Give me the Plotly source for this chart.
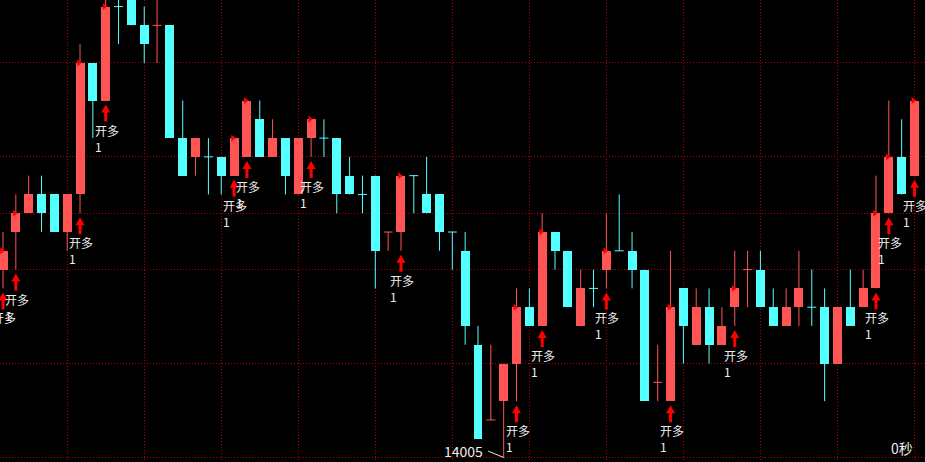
import plotly.graph_objects as go

# ---- data (price units) ----
opens = [14015, 14017, 14018, 14019, 14019, 14017, 14019, 14026, 14024, 14029, 14030, 14028,
         14028, 14028, 14022, 14021, 14021, 14021, 14020, 14021, 14023, 14021, 14022, 14019,
         14022, 14022, 14022, 14020, 14019, 14020, 14017, 14017, 14020, 14019, 14019, 14017,
         14016, 14011, 14007, 14008, 14010, 14013, 14012, 14017, 14016, 14012, 14014, 14015,
         14016, 14016, 14015, 14009, 14008, 14014, 14011, 14013, 14011, 14013, 14015, 14015,
         14013, 14012, 14013, 14013, 14013, 14010, 14013, 14013, 14014, 14018, 14021, 14020]
highs = [14017, 14019, 14020, 14020, 14019, 14019, 14027, 14026, 14031, 14031, 14030, 14029,
         14031, 14028, 14024, 14022, 14022, 14021, 14022, 14024, 14024, 14023, 14022, 14022,
         14023, 14023, 14022, 14021, 14020, 14020, 14017, 14020, 14020, 14021, 14019, 14017,
         14017, 14012, 14011, 14010, 14014, 14014, 14018, 14017, 14016, 14015, 14015, 14018,
         14019, 14017, 14015, 14011, 14016, 14014, 14014, 14014, 14013, 14016, 14016, 14016,
         14014, 14014, 14016, 14015, 14014, 14013, 14015, 14015, 14020, 14024, 14023, 14024]
lows = [14014, 14015, 14018, 14017, 14017, 14016, 14018, 14022, 14024, 14027, 14028, 14026,
        14026, 14022, 14020, 14020, 14019, 14019, 14020, 14021, 14021, 14021, 14019, 14019,
        14021, 14021, 14018, 14019, 14018, 14014, 14016, 14016, 14018, 14018, 14016, 14015,
        14011, 14006, 14007, 14005, 14008, 14012, 14012, 14015, 14013, 14012, 14013, 14014,
        14016, 14014, 14008, 14008, 14008, 14010, 14011, 14010, 14011, 14012, 14013, 14013,
        14012, 14012, 14012, 14012, 14008, 14010, 14012, 14013, 14014, 14018, 14019, 14020]
closes = [14016, 14018, 14019, 14018, 14017, 14019, 14026, 14024, 14029, 14029, 14028, 14027,
          14028, 14022, 14020, 14022, 14021, 14020, 14022, 14024, 14021, 14022, 14020, 14022,
          14023, 14022, 14019, 14019, 14019, 14016, 14017, 14020, 14020, 14018, 14017, 14017,
          14012, 14006, 14007, 14010, 14013, 14012, 14017, 14016, 14013, 14014, 14014, 14016,
          14016, 14015, 14008, 14009, 14013, 14012, 14013, 14011, 14012, 14014, 14015, 14013,
          14012, 14013, 14014, 14013, 14010, 14013, 14012, 14014, 14018, 14021, 14019, 14024]

# signal bars ("开多" = open long) and their quantities
signal_idx = [0, 1, 6, 8, 18, 19, 24, 31, 40, 42, 47, 52, 57, 68, 69, 71]
signal_qty = [1, 1, 1, 1, 1, 1, 1, 1, 1, 1, 1, 1, 1, 1, 1, 1]
signal_label = "开多"

# grid levels
price_grid = [14005, 14010, 14015, 14018, 14021, 14026]
bar_grid = [5, 11, 17, 23, 29, 35, 41, 47, 53, 59, 65, 71]

countdown_text = "0秒"

# ---- styles ----
RED = "#ff5454"
CYAN = "#54ffff"
ARROW_RED = "#ff0000"
GRID = "#b00000"
TEXT = "#eeeeee"
FONT = "Noto Sans CJK SC"
BODY_W = 0.7

n = len(opens)
xs = list(range(n))

up = []
for i in range(n):
    if closes[i] > opens[i]:
        up.append(True)
    elif closes[i] < opens[i]:
        up.append(False)
    else:
        prev = closes[i - 1] if i > 0 else opens[i]
        up.append(closes[i] > prev)

fig = go.Figure()

# wicks
for flag, col in ((True, RED), (False, CYAN)):
    wx, wy = [], []
    for i in range(n):
        if up[i] == flag:
            wx += [i, i, None]
            wy += [lows[i], highs[i], None]
    fig.add_trace(go.Scatter(x=wx, y=wy, mode="lines",
                             line=dict(color=col, width=1), hoverinfo="skip"))

# bodies
bx, by, bb, bc = [], [], [], []
for i in range(n):
    if opens[i] != closes[i]:
        bx.append(i)
        by.append(abs(closes[i] - opens[i]))
        bb.append(min(opens[i], closes[i]))
        bc.append(RED if up[i] else CYAN)
fig.add_trace(go.Bar(x=bx, y=by, base=bb, width=BODY_W,
                     marker=dict(color=bc, line=dict(width=0)), hoverinfo="skip"))

# doji bars (open == close)
for flag, col in ((True, RED), (False, CYAN)):
    dx, dy = [], []
    for i in range(n):
        if opens[i] == closes[i] and up[i] == flag:
            dx += [i - BODY_W / 2, i + BODY_W / 2, None]
            dy += [opens[i], opens[i], None]
    fig.add_trace(go.Scatter(x=dx, y=dy, mode="lines",
                             line=dict(color=col, width=1), hoverinfo="skip"))

# small signal flags at the top of signal bodies
fig.add_trace(go.Scatter(
    x=[i - 0.1 for i in signal_idx],
    y=[max(opens[i], closes[i]) for i in signal_idx],
    mode="markers",
    marker=dict(symbol="triangle-right", size=6, color=ARROW_RED, line=dict(width=0)),
    hoverinfo="skip"))

# arrows + labels
arrow_path = "M0,-4 L4.5,-12 L1.5,-12 L1.5,-21 L-1.5,-21 L-1.5,-12 L-4.5,-12 Z"
for i, q in zip(signal_idx, signal_qty):
    fig.add_shape(type="path", xref="x", yref="y",
                  xsizemode="pixel", ysizemode="pixel",
                  xanchor=i, yanchor=lows[i], path=arrow_path,
                  fillcolor=ARROW_RED, line=dict(width=0), layer="above")
    fig.add_annotation(x=i, y=lows[i], xref="x", yref="y",
                       text=f"{signal_label}<br>{q}", showarrow=False,
                       xanchor="left", yanchor="top", align="left",
                       xshift=-13, yshift=-19,
                       font=dict(family=FONT, size=12, color=TEXT))

# lowest price marker
lo_i = min(range(n), key=lambda k: lows[k])
fig.add_annotation(x=lo_i, y=lows[lo_i], xref="x", yref="y",
                   ax=-17, ay=-7, axref="pixel", ayref="pixel",
                   text="", showarrow=True, arrowhead=0, arrowwidth=1,
                   arrowcolor=TEXT, standoff=0)
fig.add_annotation(x=lo_i, y=lows[lo_i], xref="x", yref="y",
                   text=f"{lows[lo_i]}", showarrow=False,
                   xanchor="right", yanchor="middle", xshift=-19, yshift=6,
                   font=dict(family=FONT, size=14, color=TEXT))

fig.add_annotation(x=1, y=0, xref="paper", yref="paper", text=countdown_text,
                   showarrow=False, xanchor="right", yanchor="bottom",
                   xshift=-10, yshift=2,
                   font=dict(family=FONT, size=14, color=TEXT))

fig.update_layout(
    width=925, height=462,
    margin=dict(l=0, r=0, t=0, b=0),
    paper_bgcolor="#000000", plot_bgcolor="#000000",
    showlegend=False, bargap=0,
    xaxis=dict(range=[-0.234, 71.82], tickvals=bar_grid, showticklabels=False,
               showgrid=True, gridcolor=GRID, griddash="1px,2px", gridwidth=1,
               zeroline=False, showline=False, ticks="", fixedrange=True),
    yaxis=dict(range=[14004.76, 14029.35], tickvals=price_grid, showticklabels=False,
               showgrid=True, gridcolor=GRID, griddash="1px,2px", gridwidth=1,
               zeroline=False, showline=False, ticks="", fixedrange=True),
)

fig.write_html(
    "out.html",
    config={"displayModeBar": False, "staticPlot": True},
    post_script="document.body.style.margin='0';document.body.style.padding='0';"
                "document.body.style.overflow='hidden';document.body.style.background='#000';",
)
